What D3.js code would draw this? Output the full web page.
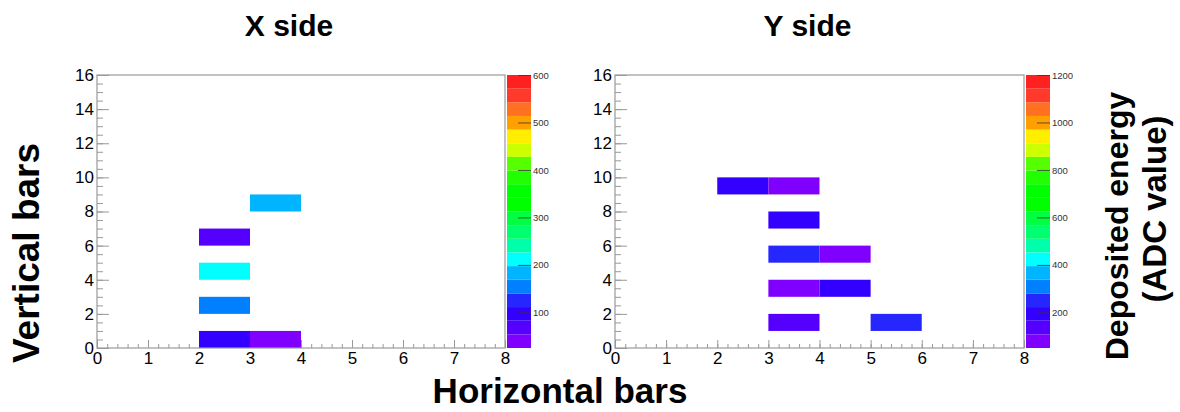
<!doctype html>
<html>
<head>
<meta charset="utf-8">
<script src="https://d3js.org/d3.v7.min.js"></script>
<style>
body { margin: 0; background: #fff; font-family: "Liberation Sans", Arial, sans-serif; }
.tick text { font-family: "Liberation Sans Narrow", "Liberation Sans", sans-serif; }
</style>
</head>
<body>
<script>
// cell lower edges (bins of width 1) and deposited energy per cell
var xSideBinX = [2, 3, 2, 2, 2, 3];
var xSideBinY = [0, 0, 2, 4, 6, 8];
var xSideAdc  = [95, 30, 155, 210, 68, 185];

var ySideBinX = [2, 3, 3, 3, 4, 3, 4, 3, 5];
var ySideBinY = [9, 9, 7, 5, 5, 3, 3, 1, 1];
var ySideAdc  = [190, 60, 200, 250, 70, 55, 195, 140, 245];

var xTicks = [0, 1, 2, 3, 4, 5, 6, 7, 8];
var yTicks = [0, 2, 4, 6, 8, 10, 12, 14, 16];
var zTicksX = [100, 200, 300, 400, 500, 600];
var zTicksY = [200, 400, 600, 800, 1000, 1200];
var zRangeX = [25, 600];
var zRangeY = [50, 1200];

// 20 contour colours, bottom to top
var palette = ["#8000ff", "#5500ff", "#3300ff", "#2626ff", "#0080ff",
               "#00b4ff", "#00ffff", "#00ffaa", "#00ff70", "#00ff40",
               "#00ff00", "#00ff00", "#22ff00", "#55ff00", "#ccff00",
               "#ffee00", "#ffa000", "#ff7020", "#ff3a2a", "#ff2020"];

var W = 1180, H = 412;
var svg = d3.select("body").append("svg").attr("width", W).attr("height", H);

function panel(left, right, bx, by, adc, zRange, zTicks, title) {
  var top = 75, bottom = 348;
  var xs = d3.scaleLinear().domain([0, 8]).range([left, right]);
  var ys = d3.scaleLinear().domain([0, 16]).range([bottom, top]);
  var zs = d3.scaleLinear().domain(zRange).range([bottom, top]);
  var nb = palette.length;
  var step = (zRange[1] - zRange[0]) / nb;
  function colour(v) {
    var k = Math.floor((v - zRange[0]) / step);
    return palette[Math.max(0, Math.min(nb - 1, k))];
  }

  var g = svg.append("g");

  // minor ticks
  g.append("g").attr("transform", "translate(0," + bottom + ")")
    .call(d3.axisBottom(xs).tickValues(d3.range(0, 8.001, 0.2)).tickSize(-4).tickFormat(""))
    .call(function(a) { a.select(".domain").remove(); a.selectAll("line").attr("stroke", "#999"); });
  g.append("g").attr("transform", "translate(" + left + ",0)")
    .call(d3.axisLeft(ys).tickValues(d3.range(0, 16.001, 0.5)).tickSize(-6).tickFormat(""))
    .call(function(a) { a.select(".domain").remove(); a.selectAll("line").attr("stroke", "#999"); });

  // major ticks with labels
  g.append("g").attr("transform", "translate(0," + bottom + ")")
    .call(d3.axisBottom(xs).tickValues(xTicks).tickSize(-8).tickPadding(4))
    .call(function(a) {
      a.select(".domain").remove();
      a.selectAll("line").attr("stroke", "#999");
      a.selectAll("text").attr("font-size", 17).attr("fill", "#000");
    });
  g.append("g").attr("transform", "translate(" + left + ",0)")
    .call(d3.axisLeft(ys).tickValues(yTicks).tickSize(-12).tickPadding(3))
    .call(function(a) {
      a.select(".domain").remove();
      a.selectAll("line").attr("stroke", "#999");
      a.selectAll("text").attr("font-size", 17).attr("fill", "#000");
    });

  // cells
  g.selectAll("rect.cell").data(adc).enter().append("rect")
    .attr("class", "cell")
    .attr("x", function(d, i) { return xs(bx[i]); })
    .attr("y", function(d, i) { return ys(by[i] + 1); })
    .attr("width", function(d, i) { return xs(bx[i] + 1) - xs(bx[i]); })
    .attr("height", function(d, i) { return ys(by[i]) - ys(by[i] + 1); })
    .attr("fill", colour);

  // frame
  g.append("rect").attr("x", left).attr("y", top)
    .attr("width", right - left).attr("height", bottom - top)
    .attr("fill", "none").attr("stroke", "#999").attr("stroke-width", 1.2);

  // colour bar
  var cbL = right + 2, cbR = right + 26;
  g.selectAll("rect.band").data(palette).enter().append("rect")
    .attr("class", "band")
    .attr("x", cbL).attr("width", cbR - cbL)
    .attr("y", function(d, k) { return zs(zRange[0] + (k + 1) * step); })
    .attr("height", function(d, k) { return zs(zRange[0] + k * step) - zs(zRange[0] + (k + 1) * step); })
    .attr("fill", function(d) { return d; });

  g.append("g").attr("transform", "translate(" + cbR + ",0)")
    .call(d3.axisRight(zs).tickValues(zTicks).tickSize(-13).tickPadding(2).tickFormat(d3.format("d")))
    .call(function(a) {
      a.select(".domain").remove();
      a.selectAll("line").attr("stroke", "#333").attr("stroke-width", 0.8);
      a.selectAll("text").attr("font-size", 9.5).attr("fill", "#333");
    });

  // title
  svg.append("text").attr("x", (left + right) / 2 - 12).attr("y", 36)
    .attr("text-anchor", "middle").attr("font-size", 30).attr("font-weight", "bold")
    .text(title);
}

panel(97, 505, xSideBinX, xSideBinY, xSideAdc, zRangeX, zTicksX, "X side");
panel(615, 1024, ySideBinX, ySideBinY, ySideAdc, zRangeY, zTicksY, "Y side");

svg.append("text").attr("x", 560).attr("y", 403)
  .attr("text-anchor", "middle").attr("font-size", 35).attr("font-weight", "bold")
  .text("Horizontal bars");

svg.append("text").attr("transform", "translate(39,253) rotate(-90)")
  .attr("text-anchor", "middle").attr("font-size", 37).attr("font-weight", "bold")
  .text("Vertical bars");

svg.append("text").attr("transform", "translate(1128,226) rotate(-90)")
  .attr("text-anchor", "middle").attr("font-size", 32).attr("font-weight", "bold")
  .text("Deposited energy");
svg.append("text").attr("transform", "translate(1166,209) rotate(-90)")
  .attr("text-anchor", "middle").attr("font-size", 33).attr("font-weight", "bold")
  .text("(ADC value)");
</script>
</body>
</html>
